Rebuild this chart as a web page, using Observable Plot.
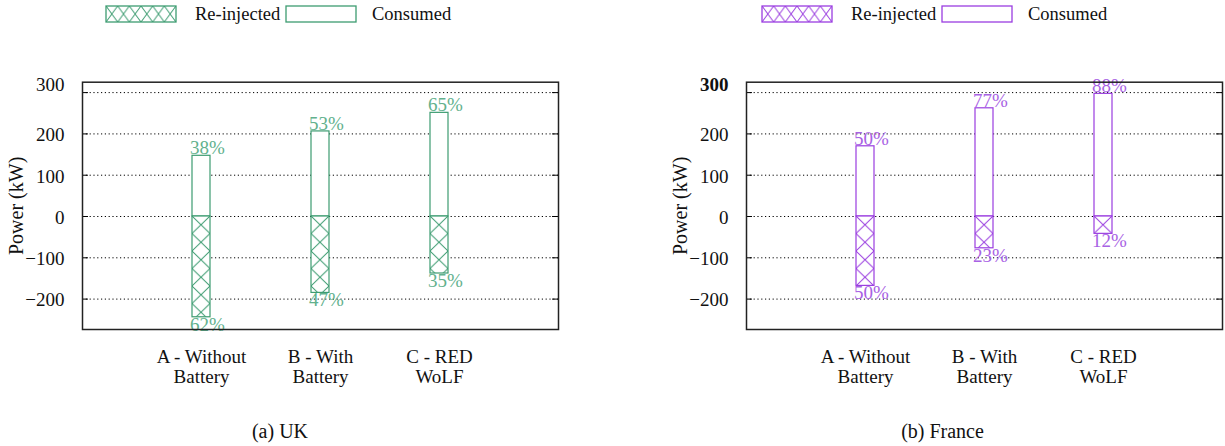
<!DOCTYPE html>
<html>
<head>
<meta charset="utf-8">
<script src="https://cdn.jsdelivr.net/npm/d3@7"></script>
<script src="https://cdn.jsdelivr.net/npm/@observablehq/plot@0.6"></script>
<style>
  html, body { margin: 0; padding: 0; background: #fff; }
  #root { position: relative; width: 1225px; height: 446px; overflow: hidden; font-family: "Liberation Serif", serif; }
  .panel { position: absolute; top: 0; width: 612px; height: 446px; }
  .legend { position: absolute; top: 0; left: 0; }
  .chart { position: absolute; top: 40px; left: 0; }
  .caption { position: absolute; top: 400px; left: 0; }
</style>
</head>
<body>
<div id="root"></div>
<script>
// ---- data ----
const scenarios = ["A - Without\nBattery", "B - With\nBattery", "C - RED\nWoLF"];
const ukConsumed = [147, 206, 251];
const ukReinjected = [-244, -185, -138];
const ukConsumedPct = ["38%", "53%", "65%"];
const ukReinjectedPct = ["62%", "47%", "35%"];
const frConsumed = [170, 262, 297];
const frReinjected = [-168, -77, -42];
const frConsumedPct = ["50%", "77%", "88%"];
const frReinjectedPct = ["50%", "23%", "12%"];
const yTicks = [-200, -100, 0, 100, 200, 300];
const yDomain = [-273.6, 325.2];
const legendLabels = ["Re-injected", "Consumed"];
const captions = ["(a) UK", "(b) France"];
const axisLabel = "Power (kW)";

// ---- layout / style ----
const FONT = "Liberation Serif, serif";
const frameW = 476;
const panels = [
  {id: "uk", left: 0, marginLeft: 82, color: "#3d9c71", labelColor: "#62b18d",
   consumed: ukConsumed, reinj: ukReinjected, cPct: ukConsumedPct, rPct: ukReinjectedPct,
   caption: captions[0], captionX: 280, legendX: 106, boldTop: false},
  {id: "fr", left: 612, marginLeft: 134, color: "#9a3de0", labelColor: "#a862e4",
   consumed: frConsumed, reinj: frReinjected, cPct: frConsumedPct, rPct: frReinjectedPct,
   caption: captions[1], captionX: 330.5, legendX: 150, boldTop: true}
];

const root = document.getElementById("root");

function hatchPattern(defs, id, x, y, w, h, color) {
  const pat = defs.append("pattern")
    .attr("id", id).attr("patternUnits", "userSpaceOnUse")
    .attr("x", x).attr("y", y).attr("width", w).attr("height", h);
  pat.append("rect").attr("width", w).attr("height", h).attr("fill", "white");
  pat.append("path")
    .attr("d", `M0,0L${w},${h}M${w},0L0,${h}`)
    .attr("stroke", color).attr("stroke-width", 1).attr("fill", "none");
}

for (const p of panels) {
  const div = document.createElement("div");
  div.className = "panel";
  div.style.left = p.left + "px";
  root.appendChild(div);

  // Legend
  const leg = d3.create("svg").attr("class", "legend").attr("width", 612).attr("height", 40);
  const ldefs = leg.append("defs");
  hatchPattern(ldefs, `leg-${p.id}`, p.legendX, 6, 70 / 6, 16, p.color);
  leg.append("rect").attr("x", p.legendX).attr("y", 6).attr("width", 70).attr("height", 16)
    .attr("fill", `url(#leg-${p.id})`).attr("stroke", p.color).attr("stroke-width", 1.3);
  leg.append("text").attr("x", p.legendX + 89).attr("y", 19.5).text(legendLabels[0])
    .attr("font-family", FONT).attr("font-size", 18.5).attr("fill", "#111");
  leg.append("rect").attr("x", p.legendX + 180).attr("y", 6).attr("width", 70).attr("height", 16)
    .attr("fill", "white").attr("stroke", p.color).attr("stroke-width", 1.3);
  leg.append("text").attr("x", p.legendX + 266).attr("y", 19.5).text(legendLabels[1])
    .attr("font-family", FONT).attr("font-size", 18.5).attr("fill", "#111");
  div.appendChild(leg.node());

  // Chart
  const data = scenarios.map((s, i) => ({
    scenario: s, consumed: p.consumed[i], reinj: p.reinj[i], cPct: p.cPct[i], rPct: p.rPct[i]
  }));
  const topTick = yTicks[yTicks.length - 1];
  const chart = Plot.plot({
    width: 612,
    height: 360,
    marginTop: 41.7,
    marginBottom: 71,
    marginLeft: p.marginLeft,
    marginRight: 612 - p.marginLeft - frameW,
    style: {fontFamily: FONT, background: "white", color: "#111"},
    x: {type: "band", domain: scenarios, paddingInner: 0.849, paddingOuter: 0.924, label: null},
    y: {domain: yDomain, label: null},
    marks: [
      Plot.gridY(yTicks, {stroke: "#000", strokeOpacity: 1, strokeDasharray: "1.2,2.6", strokeWidth: 1}),
      Plot.tickY(yTicks, {y: d => d, stroke: "#000", strokeWidth: 1, insetRight: frameW - 6}),
      Plot.tickY(yTicks, {y: d => d, stroke: "#000", strokeWidth: 1, insetLeft: frameW - 6}),
      Plot.barY(data, {x: "scenario", y1: 0, y2: "consumed", fill: "white", stroke: p.color, strokeWidth: 1.2}),
      Plot.barY(data, {x: "scenario", y1: 0, y2: "reinj", fill: "white", stroke: p.color, strokeWidth: 1.2, className: "reinjected"}),
      Plot.text(data, {x: "scenario", y: "consumed", text: "cPct", fill: p.labelColor, fontSize: 19, dx: 6, dy: -7.6, lineAnchor: "middle"}),
      Plot.text(data, {x: "scenario", y: "reinj", text: "rPct", fill: p.labelColor, fontSize: 19, dx: 6, dy: 7.4, lineAnchor: "middle"}),
      Plot.axisY(yTicks.filter(t => t < topTick), {tickSize: 0, tickPadding: 18, fontSize: 19, label: null, dy: 1.3}),
      Plot.axisY([topTick], {tickSize: 0, tickPadding: 18, fontSize: 19, label: null, dy: -7.3, fontWeight: p.boldTop ? "bold" : "normal"}),
      Plot.axisX({tickSize: 0, tickPadding: 19.5, fontSize: 19, lineHeight: 1.05, label: null}),
      Plot.text([axisLabel], {text: d => d, frameAnchor: "left", rotate: -90, dx: -66, fontSize: 20, textAnchor: "middle", lineAnchor: "middle"}),
      Plot.frame({stroke: "#222", strokeWidth: 1.5})
    ]
  });
  chart.classList.add("chart");

  // hatch fills aligned to each re-injected bar
  const svg = d3.select(chart);
  const defs = svg.insert("defs", ":first-child");
  svg.selectAll("g.reinjected rect, .reinjected rect").each(function (d, i) {
    const r = d3.select(this);
    const x = parseFloat(r.attr("x")), y = parseFloat(r.attr("y")), w = parseFloat(r.attr("width"));
    const id = `hatch-${p.id}-${i}`;
    hatchPattern(defs, id, x, y, w, 17.5, p.color);
    r.attr("fill", `url(#${id})`);
  });
  div.appendChild(chart);

  // Caption
  const cap = d3.create("svg").attr("class", "caption").attr("width", 612).attr("height", 46);
  cap.append("text").attr("x", p.captionX).attr("y", 38).attr("text-anchor", "middle")
    .attr("font-family", FONT).attr("font-size", 20).attr("fill", "#111").text(p.caption);
  div.appendChild(cap.node());
}
</script>
</body>
</html>
